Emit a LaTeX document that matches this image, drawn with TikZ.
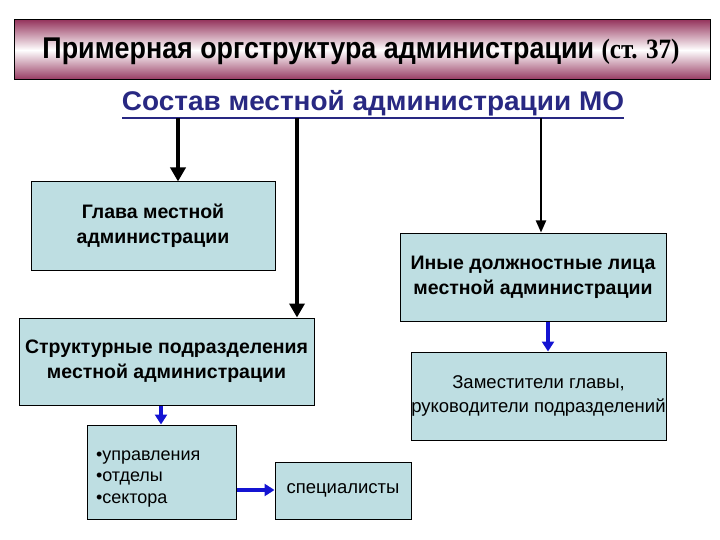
\documentclass[tikz,border=0pt]{standalone}
\usepackage{fontspec}
\setmainfont{Liberation Sans}
\newfontfamily\timesf{Liberation Serif}
\usetikzlibrary{arrows.meta}
\definecolor{boxfill}{RGB}{190,222,226}
\definecolor{maroon}{RGB}{150,55,95}
\definecolor{subblue}{RGB}{40,40,130}
\definecolor{arrblue}{RGB}{20,20,210}
\begin{document}
\begin{tikzpicture}[x=1pt,y=-1pt,
  bx/.style={draw=black, line width=1pt, fill=boxfill, inner sep=0pt, align=center, font=\fontsize{18.5}{24}\selectfont},
  bxb/.style={bx, font=\bfseries\fontsize{19.5}{25}\selectfont},
  blk/.style={line width=4pt, -{Triangle[length=14pt,width=15pt]}},
  blkthin/.style={line width=2pt, -{Triangle[length=12pt,width=10pt]}},
  blu/.style={draw=arrblue, line width=4pt, -{Triangle[length=10pt,width=12pt]}}]
\useasboundingbox (0,0) rectangle (720,540);
\fill[white] (0,0) rectangle (720,540);
% title
\shade[top color=maroon, bottom color=maroon, middle color=white] (14,20) rectangle (710,80);
\draw[line width=1pt] (14,20) rectangle (710,80);
\node[inner sep=0pt] (title) at (361,51) {\resizebox{637pt}{\height}{\bfseries\fontsize{30}{36}\selectfont Примерная оргструктура администрации {\timesf\fontsize{28}{34}\selectfont (ст. 37)}}};
% subtitle
\node[text=subblue, font=\bfseries\fontsize{27}{32}\selectfont, inner sep=0pt] (sub) at (373,103) {\resizebox{502pt}{\height}{Состав местной администрации МО}};
\draw[subblue, line width=1.5pt] (122,118) coordinate (u1) -- (624,118) coordinate (u2);
% boxes
\node[bxb, minimum width=244pt, minimum height=88pt] (glava) at (153,226) {Глава местной\\администрации};
\node[bxb, minimum width=295pt, minimum height=87pt] (struct) at (166.5,361.5) {Структурные подразделения\\местной администрации};
\node[bxb, minimum width=266pt, minimum height=88pt] (inye) at (533,277) {Иные должностные лица\\местной администрации};
\node[bx, minimum width=255pt, minimum height=88pt] (zam) at (538.5,396) {Заместители главы,\\руководители подразделений};
\node[bx, minimum width=149pt, minimum height=94pt, align=left, text width=131pt, inner xsep=9pt, font=\fontsize{18}{21.5}\selectfont] (upr) at (161.5,472) {\rule{0pt}{23pt}•управления\\•отделы\\•сектора};
\node[bx, minimum width=136pt, minimum height=57pt] (spec) at (343,490.5) {специалисты};
% black arrows
\coordinate (a1) at (178,118);
\coordinate (a2) at (297,118);
\coordinate (a3) at (541,118);
\draw[blk] (a1) -- (a1 |- glava.north);
\draw[blk] (a2) -- (a2 |- struct.north);
\draw[blkthin] (a3) -- (a3 |- inye.north);
% blue arrows
\coordinate (b1) at (161,405);
\draw[blu] (struct.south -| b1) -- (b1 |- upr.north);
\coordinate (b2) at (548,321);
\draw[blu] (inye.south -| b2) -- (b2 |- zam.north);
\coordinate (b3) at (236,490);
\draw[blu] (upr.east |- b3) -- (spec.west |- b3);
\end{tikzpicture}
\end{document}
